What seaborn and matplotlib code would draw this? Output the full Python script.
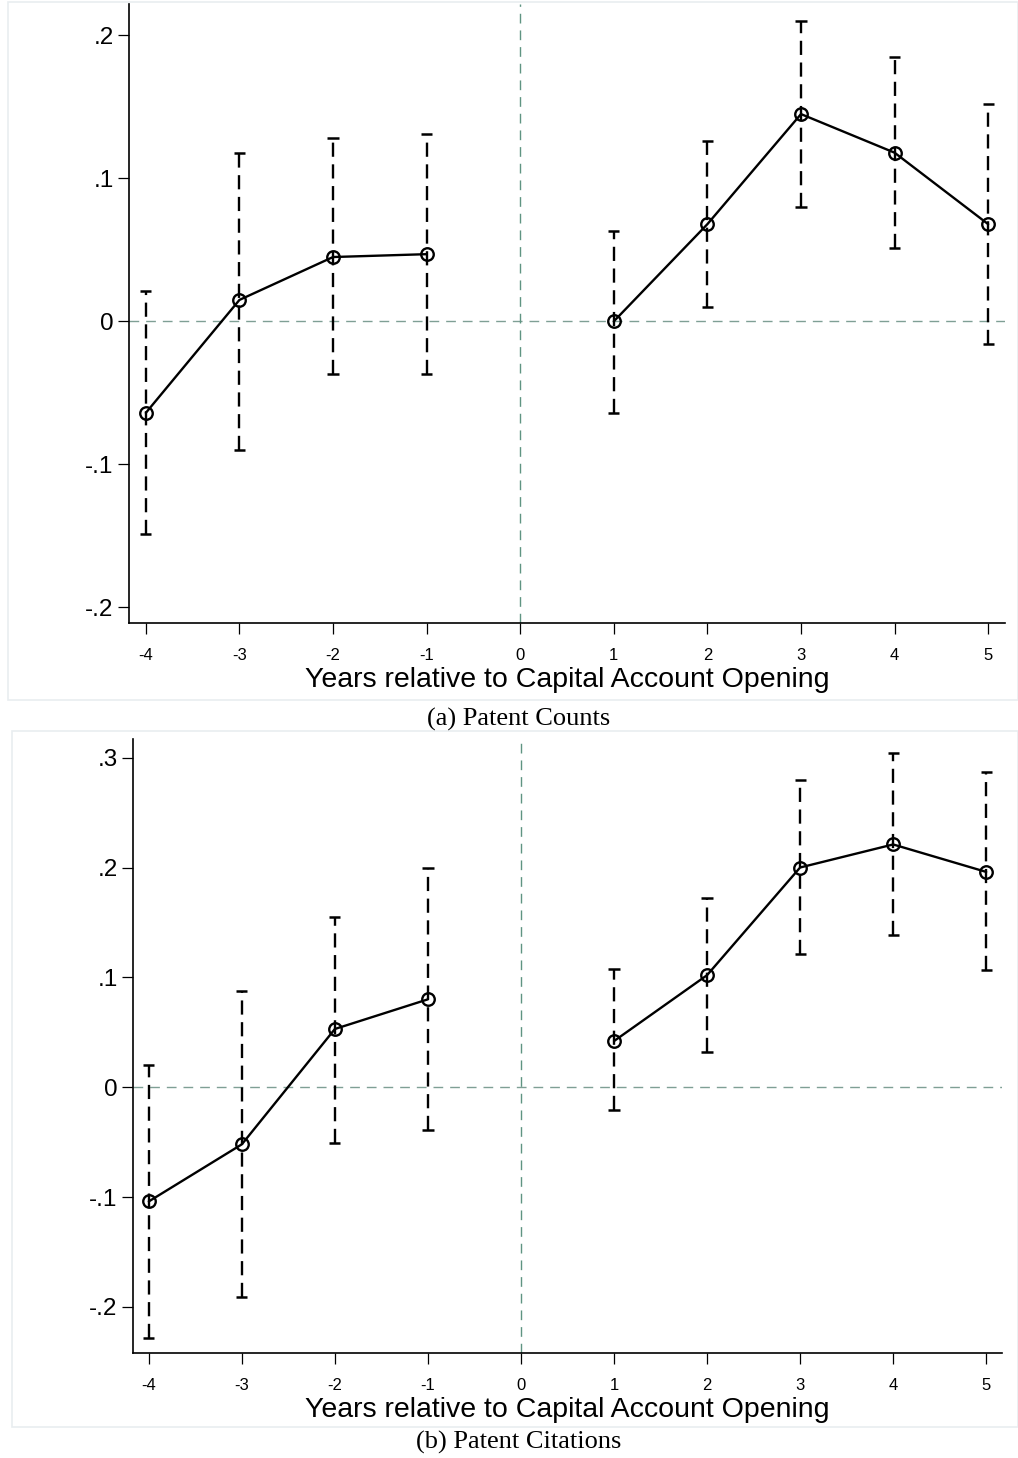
import matplotlib
matplotlib.use("Agg")
import matplotlib.pyplot as plt
import seaborn as sns
import pandas as pd
from matplotlib.patches import Rectangle

# event-time values
years = [-4, -3, -2, -1, 1, 2, 3, 4, 5]
period = ["pre", "pre", "pre", "pre", "post", "post", "post", "post", "post"]

counts_coef = [-0.064, 0.015, 0.045, 0.047, 0.000, 0.068, 0.145, 0.118, 0.068]
counts_lo = [-0.149, -0.090, -0.037, -0.037, -0.064, 0.010, 0.080, 0.051, -0.016]
counts_hi = [0.021, 0.118, 0.128, 0.131, 0.063, 0.126, 0.210, 0.185, 0.152]

cites_coef = [-0.104, -0.052, 0.053, 0.080, 0.042, 0.102, 0.200, 0.221, 0.196]
cites_lo = [-0.228, -0.191, -0.051, -0.039, -0.021, 0.032, 0.121, 0.139, 0.107]
cites_hi = [0.020, 0.088, 0.155, 0.200, 0.1075, 0.172, 0.280, 0.304, 0.287]

xticks = [-4, -3, -2, -1, 0, 1, 2, 3, 4, 5]
counts_yticks = [-0.2, -0.1, 0, 0.1, 0.2]
counts_ylabels = ["-.2", "-.1", "0", ".1", ".2"]
cites_yticks = [-0.2, -0.1, 0, 0.1, 0.2, 0.3]
cites_ylabels = ["-.2", "-.1", "0", ".1", ".2", ".3"]

xlabel = "Years relative to Capital Account Opening"
captions = ["(a) Patent Counts", "(b) Patent Citations"]

sns.set_theme(style="white")
plt.rcParams["font.family"] = ["Liberation Sans", "DejaVu Sans"]
plt.rcParams.update({"text.color": "black", "axes.labelcolor": "black",
                     "xtick.color": "black", "ytick.color": "black"})

fig = plt.figure(figsize=(10.18, 14.58), dpi=100)
fig.patch.set_facecolor("white")

# light graph-region frames
fig.add_artist(Rectangle((8 / 1018, 1 - 700 / 1458), 1010 / 1018, 698 / 1458,
                         transform=fig.transFigure, fill=False,
                         edgecolor="#e9edf0", lw=1.2))
fig.add_artist(Rectangle((12 / 1018, 1 - 1427 / 1458), 1006 / 1018, 696 / 1458,
                         transform=fig.transFigure, fill=False,
                         edgecolor="#e9edf0", lw=1.2))

ax1 = fig.add_axes([129 / 1018, 1 - 623 / 1458, 876 / 1018, 619 / 1458])
ax2 = fig.add_axes([133 / 1018, 1 - 1353 / 1458, 869 / 1018, 614 / 1458])


def draw_panel(ax, coef, lo, hi, yticks, ylabels, ylim, xlim):
    df = pd.DataFrame({"year": years, "coef": coef, "lo": lo, "hi": hi,
                       "period": period})
    ax.axhline(0, color="#7f9f95", lw=1.0, ls=(0, (7, 5)), zorder=1)
    ax.axvline(0, color="#5f9482", lw=1.0, ls=(0, (7, 5)), zorder=1)
    # dashed confidence intervals with solid caps
    ax.vlines(df["year"], df["lo"], df["hi"], color="black", lw=1.7,
              linestyles=(0, (6, 3.2)), zorder=2)
    ax.hlines(df["lo"], df["year"] - 0.06, df["year"] + 0.06, color="black",
              lw=1.8, zorder=2)
    ax.hlines(df["hi"], df["year"] - 0.06, df["year"] + 0.06, color="black",
              lw=1.8, zorder=2)
    for p in ["pre", "post"]:
        sub = df[df["period"] == p]
        sns.lineplot(data=sub, x="year", y="coef", ax=ax, color="black",
                     lw=1.7, marker="o", markersize=9, markerfacecolor="none",
                     markeredgecolor="black", markeredgewidth=1.7,
                     errorbar=None, zorder=3)
    ax.set_xlim(*xlim)
    ax.set_ylim(*ylim)
    ax.set_xticks(xticks)
    ax.set_xticklabels([str(t) for t in xticks], fontsize=12)
    ax.set_yticks(yticks)
    ax.set_yticklabels(ylabels, fontsize=17.5)
    ax.set_xlabel(xlabel, fontsize=20.5, labelpad=3)
    ax.set_ylabel("")
    for s in ["top", "right"]:
        ax.spines[s].set_visible(False)
    for s in ["left", "bottom"]:
        ax.spines[s].set_color("black")
        ax.spines[s].set_linewidth(1.2)
    ax.tick_params(axis="both", which="major", direction="out", length=8,
                   width=0.9, color="black", left=True, bottom=True)
    ax.tick_params(axis="x", pad=10)
    ax.tick_params(axis="y", pad=3)
    ax.set_facecolor("white")


draw_panel(ax1, counts_coef, counts_lo, counts_hi, counts_yticks,
           counts_ylabels, (-0.211, 0.222), (-4.18, 5.18))
draw_panel(ax2, cites_coef, cites_lo, cites_hi, cites_yticks,
           cites_ylabels, (-0.242, 0.317), (-4.17, 5.17))

fig.text(519 / 1018, 1 - 719 / 1458, captions[0], ha="center", va="center",
         fontsize=19, family=["Liberation Serif", "DejaVu Serif"])
fig.text(519 / 1018, 1 - 1442 / 1458, captions[1], ha="center", va="center",
         fontsize=19, family=["Liberation Serif", "DejaVu Serif"])

fig.savefig("out.png", dpi=100, facecolor="white")
